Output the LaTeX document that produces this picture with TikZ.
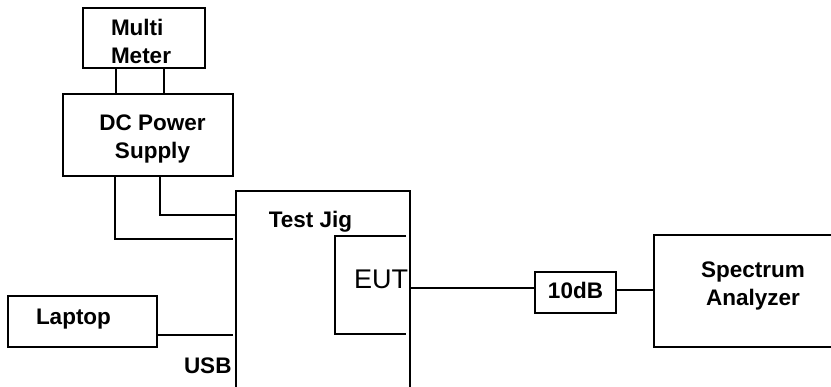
\documentclass[tikz,border=0pt]{standalone}
\usepackage{fontspec}
\setmainfont{Liberation Sans}
\begin{document}
\begin{tikzpicture}[x=1pt,y=-1pt,line width=2pt,
  box/.style={draw,rectangle,inner sep=0pt},
  lbl/.style={font=\bfseries\fontsize{22.5}{28}\selectfont,inner sep=0pt}]
\useasboundingbox (0,0) rectangle (831,387);
\node[box,minimum width=122pt,minimum height=60pt] (mm) at (144,38) {};
\node[box,minimum width=170pt,minimum height=82pt] (dc) at (148,135) {};
\node[rectangle,inner sep=0pt,minimum width=172pt,minimum height=200pt] (jig) at (323,292) {};
\draw (jig.south west) |- (jig.north east) -- (jig.south east);
\node[box,minimum width=149pt,minimum height=51pt] (laptop) at (82.5,321.5) {};
\node[box,minimum width=81pt,minimum height=41pt] (att) at (575.5,292.5) {};
\node[rectangle,inner sep=0pt,minimum width=176pt,minimum height=110pt] (sa) at (743,291) {};
\draw (sa.north east) -| (sa.south west) -- (sa.south east);
\draw (406,236) -| (335,334) -- (406,334);
\node[lbl,anchor=west,align=left] (mmtxt) at (110,41) {Multi\\Meter};
\node[lbl,align=center] (dctxt) at (152.5,139) {DC Power\\Supply};
\node[lbl,anchor=base] (jigtxt) at (310.5,228) {Test Jig};
\node[font=\fontsize{27}{30}\selectfont,inner sep=0pt,anchor=base] (euttxt) at (381,289) {EUT};
\node[lbl,anchor=base west] (laptxt) at (35,325) {Laptop};
\node[lbl,anchor=base west] (usbtxt) at (183,374) {USB};
\node[lbl,anchor=base] (atttxt) at (575.5,299) {10dB};
\node[lbl,align=center] (satxt) at (753,286) {Spectrum\\Analyzer};
\draw ([xshift=34pt]mm.south west) coordinate (m1) -- (m1 |- dc.north);
\draw ([xshift=82pt]mm.south west) coordinate (m2) -- (m2 |- dc.north);
\draw ([xshift=53pt]dc.south west) |- ([xshift=-3pt,yshift=-48pt]jig.north west);
\draw ([xshift=98pt]dc.south west) |- ([yshift=-24pt]jig.north west);
\draw ([yshift=13pt]laptop.south east) coordinate (l1) -- ([xshift=-3pt]l1 -| jig.west);
\coordinate (e1) at ([yshift=4.5pt]att.west);
\draw (e1) -- (e1 -| jig.east);
\coordinate (e2) at ([yshift=2.5pt]att.east);
\draw (e2) -- (e2 -| sa.west);
\end{tikzpicture}
\end{document}
